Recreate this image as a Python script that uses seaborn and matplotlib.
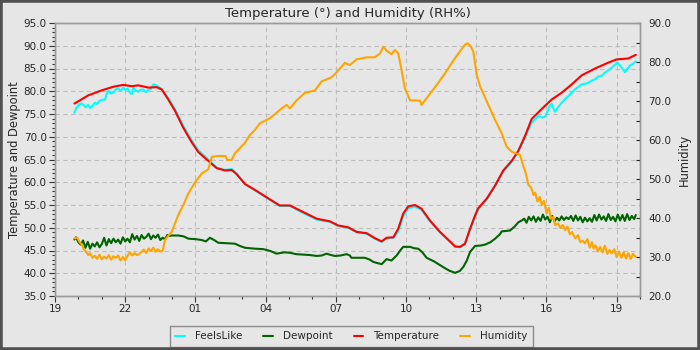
import matplotlib
matplotlib.use("Agg")
import matplotlib.pyplot as plt
import matplotlib.dates as mdates
from matplotlib.ticker import MultipleLocator, FormatStrFormatter
from matplotlib.patches import Rectangle
import seaborn as sns
import pandas as pd

# ---------------- data (hours after 19:00) ----------------
temp_hours = [0.83, 1.0, 1.42, 2.0, 2.5, 2.92, 3.28, 3.56, 3.99, 4.34, 4.56, 4.84, 5.13, 5.48, 5.84,
              6.13, 6.55, 6.91, 7.26, 7.55, 7.76, 8.12, 8.55, 9.04, 9.6, 10.04, 10.47, 11.18, 11.75,
              12.1, 12.53, 12.89, 13.32, 13.67, 13.96, 14.17, 14.46, 14.67, 14.88, 15.1, 15.38, 15.66,
              16.02, 16.45, 16.88, 17.1, 17.31, 17.52, 17.74, 17.95, 18.09, 18.45, 18.81, 19.16, 19.52,
              19.8, 20.09, 20.37, 20.8, 21.23, 21.66, 22.08, 22.51, 23.08, 23.65, 24.0, 24.5, 24.82]
temp_values = [77.3, 77.8, 79.1, 80.2, 81.0, 81.4, 81.1, 81.3, 80.8, 80.9, 80.4, 78.2, 75.7, 72.0, 68.8,
               66.6, 64.7, 63.1, 62.6, 62.7, 61.8, 59.6, 58.3, 56.7, 54.9, 54.9, 53.8, 52.0, 51.4,
               50.5, 50.1, 49.1, 48.8, 47.7, 47.0, 47.8, 47.9, 49.8, 53.1, 54.7, 55.0, 54.2,
               51.6, 49.1, 47.0, 45.9, 45.8, 46.5, 49.8, 52.7, 54.3, 56.4, 59.3, 62.6, 64.7,
               66.9, 70.2, 73.9, 76.1, 78.2, 79.7, 81.5, 83.5, 85.0, 86.3, 87.0, 87.2, 88.0]

feels_hours = [0.83, 0.9, 1.0, 1.1, 1.21, 1.3, 1.42, 1.5, 1.6, 1.71, 1.8, 1.9, 2.0, 2.14, 2.2, 2.28, 2.4,
               2.49, 2.6, 2.71, 2.8, 2.92, 3.0, 3.1, 3.2, 3.28, 3.35, 3.45, 3.56, 3.65, 3.77, 3.88, 3.99,
               4.1, 4.2, 4.34, 4.45, 4.56, 4.7,
               4.84, 5.13, 5.48, 5.84, 6.13, 6.55, 6.91, 7.26, 7.55, 7.76, 8.12, 8.55, 9.04, 9.6, 10.04,
               10.47, 11.18, 11.75, 12.1, 12.53, 12.89, 13.32, 13.67, 13.96, 14.17, 14.46, 14.67, 14.88,
               15.1, 15.38, 15.66, 16.02, 16.45, 16.88, 17.1, 17.31, 17.52, 17.74, 17.95, 18.09, 18.45,
               18.81, 19.16, 19.52, 19.8, 20.09,
               20.37, 20.5, 20.66, 20.8, 20.94, 21.05, 21.15, 21.23, 21.3, 21.37, 21.5, 21.66, 21.8, 21.95,
               22.08, 22.2, 22.35, 22.51, 22.7, 22.94, 23.1, 23.2, 23.36, 23.5, 23.65, 23.79, 23.9, 24.03,
               24.12, 24.22, 24.3, 24.36, 24.45, 24.58, 24.7, 24.82]
feels_values = [75.3, 76.2, 76.9, 77.3, 77.1, 76.5, 77.0, 76.3, 76.8, 77.5, 77.2, 77.9, 78.1, 78.2, 79.3, 80.1, 79.5,
                79.7, 80.4, 80.6, 80.1, 80.8, 80.3, 80.6, 79.7, 79.4, 80.8, 80.2, 79.9, 80.3, 80.4, 79.8, 80.3,
                80.5, 81.5, 81.3, 80.9, 80.4, 79.5,
                78.5, 76.0, 72.4, 69.2, 67.0, 65.0, 63.2, 62.7, 62.9, 61.9, 59.6, 58.2, 56.6, 54.8, 54.8,
                53.6, 51.8, 51.3, 50.4, 50.0, 49.0, 48.7, 47.6, 46.9, 47.7, 47.8, 49.2, 52.5,
                54.3, 54.6, 54.0, 51.5, 49.0, 46.9, 45.8, 45.7, 46.4, 49.6, 52.4, 54.1, 56.2,
                59.2, 62.4, 64.5, 66.7, 69.9,
                73.1, 73.8, 74.6, 74.2, 74.4, 75.6, 76.8, 77.2, 76.2, 75.5, 76.5, 77.5, 78.3, 79.0,
                79.7, 80.3, 80.9, 81.5, 81.7, 82.3, 82.7, 83.2, 83.4, 84.1, 84.6, 85.2, 85.7, 86.3,
                85.8, 85.2, 84.6, 84.2, 84.9, 85.7, 86.0, 86.6]

dew_hours = [0.83, 0.9, 1.0, 1.1, 1.2, 1.3, 1.4, 1.5, 1.6, 1.7, 1.8, 1.9, 2.0, 2.1, 2.2, 2.3, 2.4, 2.5,
             2.6, 2.7, 2.8, 2.9, 3.0, 3.1, 3.2, 3.3, 3.4, 3.5, 3.6, 3.7, 3.8, 3.9, 4.0, 4.1, 4.2, 4.3,
             4.4, 4.5, 4.6, 4.7, 4.8, 4.9, 5.0,
             5.27, 5.5, 5.7, 6.0, 6.27, 6.45, 6.62, 6.8, 6.98, 7.3, 7.69, 7.9, 8.12, 8.55, 8.9, 9.2,
             9.47, 9.8, 10.04, 10.3, 10.6, 10.9, 11.18, 11.4, 11.6, 11.8, 11.96, 12.2, 12.46, 12.6,
             12.67, 13.0, 13.24, 13.45, 13.6, 13.8, 13.96, 14.17, 14.38, 14.6, 14.75, 14.88, 15.17,
             15.35, 15.52, 15.7, 15.88, 16.2, 16.45, 16.7, 16.88, 17.1, 17.3, 17.45, 17.6, 17.74,
             17.95, 18.2, 18.38, 18.6, 18.81, 19.0, 19.09, 19.45, 19.65, 19.8, 19.95,
             20.05, 20.15, 20.25, 20.35, 20.45, 20.55, 20.65, 20.75, 20.85, 20.95, 21.05, 21.15,
             21.25, 21.35, 21.45, 21.55, 21.65, 21.75, 21.85, 21.95, 22.05, 22.15, 22.25, 22.35,
             22.45, 22.55, 22.65, 22.75, 22.85, 22.95, 23.05, 23.15, 23.25, 23.35, 23.45, 23.55,
             23.65, 23.75, 23.85, 23.95, 24.05, 24.15, 24.25, 24.35, 24.45, 24.55, 24.65, 24.75, 24.82]
dew_values = [47.4, 47.9, 46.8, 46.3, 47.2, 45.6, 46.9, 45.4, 46.5, 45.9, 46.8, 45.7, 46.4, 47.8, 46.1,
              47.5, 46.6, 47.6, 46.8, 47.4, 46.5, 47.9, 47.0, 47.6, 46.8, 48.6, 47.4, 48.2, 47.1, 48.4,
              47.6, 48.0, 48.7, 47.5, 48.3, 47.8, 48.5, 47.3, 47.8, 47.5, 48.4, 48.2, 48.3,
              48.3, 48.1, 47.6, 47.5, 47.3, 47.0, 47.8, 47.3, 46.7, 46.6, 46.5, 46.0, 45.6, 45.4, 45.3, 44.9,
              44.3, 44.6, 44.5, 44.2, 44.1, 44.0, 43.8, 43.9, 44.3, 44.0, 43.8, 43.9, 44.2, 43.9,
              43.4, 43.4, 43.4, 43.0, 42.5, 42.2, 42.0, 43.1, 42.8, 43.9, 45.0, 45.8, 45.8,
              45.5, 45.4, 44.6, 43.4, 42.6, 41.8, 41.0, 40.5, 40.1, 40.5, 41.4, 42.8, 44.7,
              46.0, 46.1, 46.3, 46.8, 47.6, 48.5, 49.2, 49.4, 50.3, 51.2, 51.6,
              52.0, 51.1, 52.4, 51.6, 52.5, 51.3, 52.3, 51.5, 52.9, 51.8, 52.4, 51.2,
              52.6, 51.4, 52.2, 51.6, 52.5, 51.7, 52.3, 51.9, 52.6, 51.5, 52.7, 51.6,
              52.4, 51.2, 52.2, 51.4, 52.1, 51.3, 52.8, 51.6, 52.9, 51.8, 52.5, 51.5,
              53.0, 51.7, 52.4, 51.4, 52.9, 51.6, 52.8, 51.5, 53.0, 51.7, 52.6, 51.9, 52.8]

hum_hours = [0.83, 0.95, 1.05, 1.15, 1.21, 1.3, 1.42, 1.5, 1.6, 1.7, 1.8, 1.9, 2.0, 2.1, 2.2, 2.3, 2.4,
             2.5, 2.6, 2.7, 2.8, 2.9, 3.0, 3.1, 3.2, 3.3, 3.4, 3.5, 3.6, 3.7, 3.8, 3.9, 4.0, 4.1, 4.2,
             4.3, 4.4, 4.5, 4.6,
             4.7, 4.99, 5.27, 5.48, 5.7, 5.98, 6.27, 6.55, 6.65, 6.7, 6.98, 7.29, 7.35, 7.55, 7.69,
             8.12, 8.33, 8.55, 8.76, 9.19, 9.47, 9.75, 9.9, 10.04, 10.32, 10.68, 11.11, 11.39, 11.82,
             12.03, 12.39, 12.6, 12.89, 13.32, 13.67, 13.89, 14.03, 14.17, 14.38, 14.53, 14.67, 14.81,
             14.95, 15.17, 15.6, 15.66, 15.88, 16.31, 16.67, 16.95, 17.24, 17.52, 17.62, 17.75, 17.88,
             18.02, 18.17, 18.52, 18.81, 19.09, 19.3, 19.52, 19.87, 20.02,
             20.12, 20.23, 20.35, 20.45, 20.52, 20.62, 20.72, 20.8, 20.9, 21.01, 21.1, 21.2, 21.3,
             21.37, 21.5, 21.6, 21.7, 21.8, 21.9, 22.0, 22.1, 22.23, 22.35, 22.45, 22.55, 22.65,
             22.75, 22.85, 22.95, 23.01, 23.1, 23.2, 23.3, 23.4, 23.5, 23.6, 23.7, 23.79, 23.9,
             24.0, 24.1, 24.2, 24.3, 24.4, 24.5, 24.6, 24.7, 24.82]
hum_values = [34.8, 35.0, 33.8, 33.2, 32.2, 31.5, 30.5, 31.0, 29.8, 30.3, 29.5, 30.6, 29.4, 30.1, 29.6,
              30.5, 29.3, 30.2, 29.8, 30.4, 29.1, 30.0, 29.2, 30.3, 31.2, 30.4, 31.0, 30.5, 30.8, 31.3,
              31.9, 31.0, 32.2, 31.5, 32.4, 31.3, 32.0, 31.4, 31.6,
              34.4, 36.5, 40.8, 43.3, 46.3, 49.1, 51.4, 52.5, 54.5, 55.7, 55.9, 55.9, 54.9, 54.9, 56.6,
              59.3, 61.3, 62.6, 64.3, 65.6, 67.0, 68.4, 69.0, 68.1, 70.1, 72.1, 72.7, 75.0, 76.1,
              77.3, 79.8, 79.2, 80.7, 81.2, 81.2, 82.2, 83.9, 82.9, 82.0, 83.1, 82.2, 78.0,
              73.3, 70.2, 70.1, 69.0, 70.7, 74.1, 77.1, 79.7, 82.2, 84.4, 84.8, 84.2, 82.6,
              76.7, 73.7, 69.0, 65.1, 61.7, 58.3, 57.0, 56.2, 53.2,
              51.5, 48.5, 47.8, 45.9, 46.5, 44.2, 45.4, 43.3, 44.4, 41.2, 42.6, 39.8, 40.3,
              38.2, 38.6, 37.4, 38.2, 36.9, 37.8, 35.8, 36.4, 34.8, 35.6, 33.8, 34.2, 33.5,
              34.6, 32.4, 33.8, 32.2, 33.0, 31.4, 32.6, 31.2, 32.9, 30.8, 31.8, 30.9, 32.0,
              30.0, 31.4, 29.8, 31.2, 29.6, 31.0, 29.5, 30.8, 30.0]

title = "Temperature (°) and Humidity (RH%)"
left_label = "Temperature and Dewpoint"
right_label = "Humidity"

# ---------------- build frames ----------------
base = pd.Timestamp("2024-01-01 19:00")


def frame(hours, values):
    return pd.DataFrame({"time": base + pd.to_timedelta(hours, unit="h"), "value": values})


df_feels = frame(feels_hours, feels_values)
df_dew = frame(dew_hours, dew_values)
df_temp = frame(temp_hours, temp_values)
df_hum = frame(hum_hours, hum_values)

BG = "#e6e6e6"
SPINE = "#9a9a9a"

sns.set_theme(style="ticks")
plt.rcParams["font.family"] = ["DejaVu Sans"]

fig = plt.figure(figsize=(7, 3.5), dpi=100, facecolor=BG)
ax = fig.add_axes([55 / 700, 1 - 296 / 350, 585 / 700, 273 / 350])
ax.set_facecolor(BG)
ax2 = ax.twinx()

lw = 1.5
sns.lineplot(data=df_feels, x="time", y="value", ax=ax, color="#00ffff", lw=lw,
             estimator=None, sort=False, label="FeelsLike", legend=False)
sns.lineplot(data=df_dew, x="time", y="value", ax=ax, color="#006400", lw=lw,
             estimator=None, sort=False, label="Dewpoint", legend=False)
sns.lineplot(data=df_temp, x="time", y="value", ax=ax, color="#ff0000", lw=lw,
             estimator=None, sort=False, label="Temperature", legend=False)
sns.lineplot(data=df_hum, x="time", y="value", ax=ax2, color="#ffa500", lw=lw,
             estimator=None, sort=False, label="Humidity", legend=False)

# ---------------- axes ----------------
ax.set_xlim(base, base + pd.Timedelta(hours=25))
ax.set_ylim(35, 95)
ax2.set_ylim(20, 90)

ax.xaxis.set_major_locator(mdates.HourLocator(byhour=[1, 4, 7, 10, 13, 16, 19, 22]))
ax.xaxis.set_minor_locator(mdates.HourLocator())
ax.xaxis.set_major_formatter(mdates.DateFormatter("%H"))

ax.yaxis.set_major_locator(MultipleLocator(5))
ax.yaxis.set_minor_locator(MultipleLocator(1))
ax.yaxis.set_major_formatter(FormatStrFormatter("%.1f"))

ax2.yaxis.set_major_locator(MultipleLocator(10))
ax2.yaxis.set_minor_locator(MultipleLocator(5))
ax2.yaxis.set_major_formatter(FormatStrFormatter("%.1f"))

fs = 7.5
ax.tick_params(axis="both", which="major", labelsize=fs, length=4, width=0.8, color="#333333",
               direction="out", pad=2)
ax.tick_params(axis="both", which="minor", length=2.5, width=0.8, color="#333333", direction="out")
ax2.tick_params(axis="y", which="both", labelsize=fs, length=3, width=0.8, color="#222222",
                direction="in", pad=6)

ax.set_xlabel("")
ax.set_ylabel(left_label, fontsize=8.3, labelpad=2)
ax2.set_ylabel(right_label, fontsize=8.3, labelpad=5)
ax.set_title(title, fontsize=9.5, pad=4)

ax.grid(True, which="major", axis="both", color="#bdbdbd", linestyle=(0, (4, 3)), linewidth=0.8)
ax2.grid(False)

for a in (ax, ax2):
    for s in a.spines.values():
        s.set_visible(True)
        s.set_color(SPINE)
        s.set_linewidth(1.0)

# ---------------- legend ----------------
h1, l1 = ax.get_legend_handles_labels()
h2, l2 = ax2.get_legend_handles_labels()
leg = fig.legend(h1 + h2, l1 + l2, loc="lower center", bbox_to_anchor=(0.502, -0.005), ncol=4,
                 fontsize=fs, frameon=True, fancybox=False, framealpha=1, facecolor=BG,
                 edgecolor="#8c8c8c", handlelength=0.9, columnspacing=2.0, handletextpad=1.0,
                 borderpad=0.5)
leg.get_frame().set_linewidth(1.0)

# figure border
fig.patches.append(Rectangle((0, 0), 1, 1, transform=fig.transFigure, fill=False,
                             edgecolor="#505050", linewidth=4, zorder=10))

fig.savefig("out.png", dpi=100, facecolor=BG)
